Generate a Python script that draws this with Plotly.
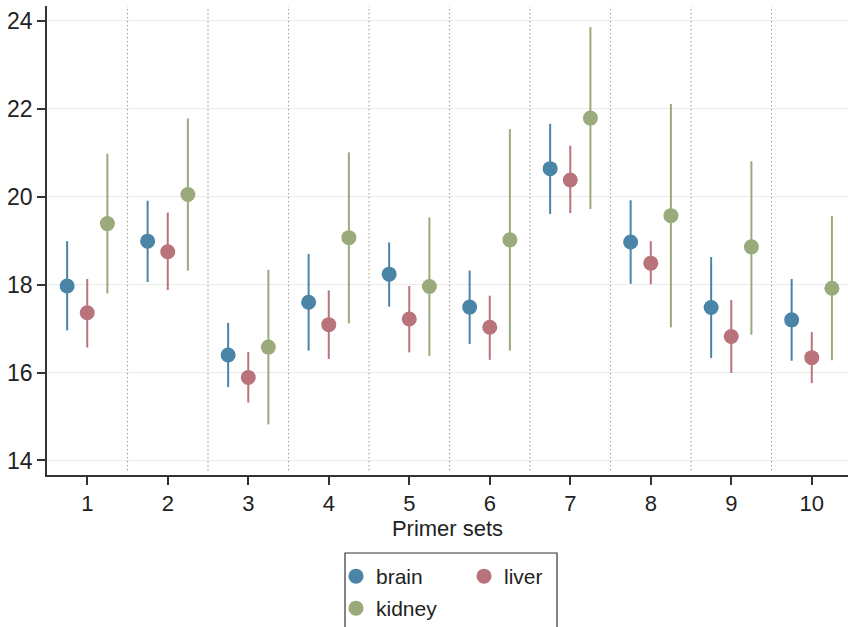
import plotly.graph_objects as go

primer_sets = [1, 2, 3, 4, 5, 6, 7, 8, 9, 10]
tissues = ["brain", "liver", "kidney"]

brain_mean = [17.97, 18.99, 16.40, 17.60, 18.24, 17.49, 20.64, 18.97, 17.48, 17.20]
brain_lo   = [16.96, 18.06, 15.67, 16.50, 17.50, 16.65, 19.61, 18.02, 16.33, 16.27]
brain_hi   = [18.99, 19.91, 17.13, 18.70, 18.96, 18.32, 21.66, 19.92, 18.63, 18.13]

liver_mean = [17.36, 18.75, 15.89, 17.09, 17.22, 17.03, 20.38, 18.49, 16.82, 16.34]
liver_lo   = [16.57, 17.88, 15.32, 16.31, 16.46, 16.29, 19.63, 18.01, 15.99, 15.76]
liver_hi   = [18.13, 19.64, 16.47, 17.87, 17.97, 17.75, 21.16, 18.99, 17.65, 16.92]

kidney_mean = [19.39, 20.05, 16.58, 19.07, 17.96, 19.02, 21.79, 19.57, 18.86, 17.92]
kidney_lo   = [17.80, 18.32, 14.82, 17.12, 16.38, 16.50, 19.72, 17.03, 16.86, 16.28]
kidney_hi   = [20.98, 21.78, 18.34, 21.01, 19.53, 21.54, 23.86, 22.11, 20.81, 19.56]

offsets = {"brain": -0.25, "liver": 0.0, "kidney": 0.25}
colors = {"brain": "#4A84A7", "liver": "#B9737B", "kidney": "#9BAA7B"}
legends = {"brain": "legend", "liver": "legend", "kidney": "legend2"}
data = {
    "brain": (brain_mean, brain_lo, brain_hi),
    "liver": (liver_mean, liver_lo, liver_hi),
    "kidney": (kidney_mean, kidney_lo, kidney_hi),
}

FONT = "Liberation Sans, Arial, Helvetica, sans-serif"

fig = go.Figure()
for t in tissues:
    m, lo, hi = data[t]
    xs = [p + offsets[t] for p in primer_sets]
    fig.add_trace(go.Scatter(
        x=xs, y=m, mode="markers", name=t,
        marker=dict(color=colors[t], size=15, line=dict(width=0)),
        error_y=dict(type="data", symmetric=False,
                     array=[h - v for h, v in zip(hi, m)],
                     arrayminus=[v - l for v, l in zip(m, lo)],
                     color=colors[t], thickness=2, width=0),
        legend=legends[t],
    ))

# dotted separators between primer sets
for p in primer_sets[:-1]:
    fig.add_shape(type="line", xref="x", yref="paper",
                  x0=p + 0.5, x1=p + 0.5, y0=0.01, y1=1.0,
                  line=dict(color="#7A7A7A", width=1.2, dash="1px,3px"), layer="below")

# legend box
fig.add_shape(type="rect", xref="paper", yref="paper",
              x0=(345 - 47) / 801, x1=(557 - 47) / 801,
              y0=(475 - 660) / 469, y1=(475 - 553) / 469,
              line=dict(color="#333333", width=1.2), fillcolor="rgba(0,0,0,0)")

fig.update_layout(
    width=848, height=627,
    margin=dict(l=47, r=0, t=6, b=152, autoexpand=False),
    paper_bgcolor="white", plot_bgcolor="white",
    font=dict(family=FONT, size=20, color="#222222"),
    xaxis=dict(range=[0.5, 10.45], tickmode="array", tickvals=primer_sets,
               ticktext=[str(p) for p in primer_sets],
               showgrid=False, zeroline=False,
               showline=True, linecolor="#333333", linewidth=1.5,
               ticks="outside", ticklen=8, tickwidth=1.5, tickcolor="#333333",
               title=dict(text="Primer sets", font=dict(size=22), standoff=2),
               tickfont=dict(size=22), automargin=False),
    yaxis=dict(range=[13.67, 24.34], tickvals=[14, 16, 18, 20, 22, 24],
               showgrid=True, gridcolor="#EBEBEB", gridwidth=1.3, zeroline=False,
               showline=True, linecolor="#333333", linewidth=1.5,
               ticks="outside", ticklen=8, tickwidth=1.5, tickcolor="#333333",
               tickfont=dict(size=23), automargin=False),
    legend=dict(orientation="h", x=(336 - 47) / 801, y=(475 - 556) / 469,
                xanchor="left", yanchor="top", bgcolor="rgba(0,0,0,0)",
                font=dict(size=21), entrywidth=83, entrywidthmode="pixels",
                itemwidth=30),
    legend2=dict(orientation="h", x=(336 - 47) / 801, y=(475 - 588) / 469,
                 xanchor="left", yanchor="top", bgcolor="rgba(0,0,0,0)",
                 font=dict(size=21), itemwidth=30),
    showlegend=True,
)

fig.write_html("out.html")
